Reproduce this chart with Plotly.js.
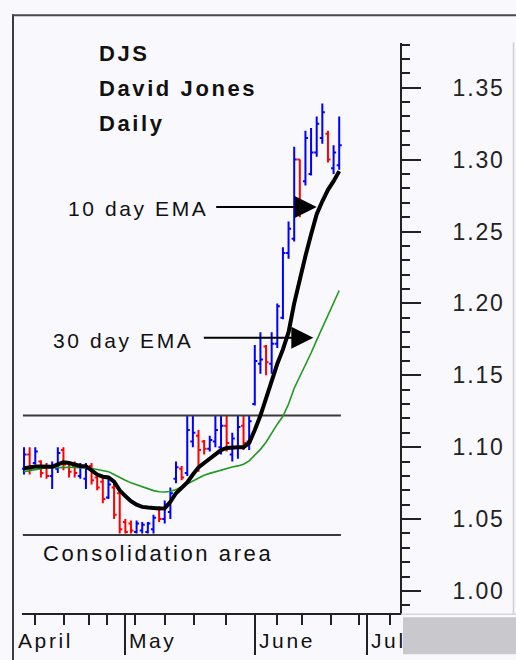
<!DOCTYPE html>
<html><head><meta charset="utf-8">
<script src="https://cdn.plot.ly/plotly-3.0.1.min.js"></script>
<style>
html,body{margin:0;padding:0;background:#f9f8fc;}
#chart{width:516px;height:660px;}
.annotation-text{letter-spacing:2.6px;}
.ytick text{letter-spacing:1.8px;}
</style></head><body><div id="chart"></div>
<script>
// trading-day index of each bar
const dayIndex = [0,1,2,3,4,5,6,7,8,9,10,11,12,13,14,15,16,17,18,19,20,21,22,23,24,25,26,27,28,29,30,31,32,33,34,35,36,37,38,39,40,41,42,43,44,45,46,47,48,49,50,51,52,53,54,55,56];
const openP  = [1.085,1.095,1.089,1.090,1.087,1.080,1.085,1.098,1.089,1.087,1.080,1.078,1.087,1.079,1.076,1.065,1.072,1.068,1.048,1.047,1.041,1.042,1.041,1.043,1.057,1.050,1.055,1.078,1.085,1.082,1.104,1.108,1.104,1.099,1.104,1.100,1.115,1.095,1.100,1.115,1.104,1.130,1.158,1.170,1.158,1.172,1.190,1.235,1.245,1.300,1.285,1.290,1.305,1.315,1.318,1.294,1.296];
const highP  = [1.100,1.100,1.100,1.091,1.089,1.090,1.100,1.100,1.090,1.090,1.089,1.089,1.089,1.082,1.080,1.078,1.075,1.071,1.050,1.049,1.049,1.048,1.048,1.053,1.059,1.063,1.072,1.090,1.087,1.122,1.122,1.112,1.105,1.108,1.122,1.122,1.122,1.110,1.122,1.122,1.122,1.171,1.180,1.171,1.180,1.200,1.239,1.257,1.309,1.300,1.320,1.322,1.330,1.339,1.320,1.310,1.330];
const lowP   = [1.081,1.081,1.088,1.079,1.078,1.071,1.082,1.084,1.079,1.079,1.078,1.071,1.074,1.070,1.061,1.064,1.050,1.040,1.040,1.040,1.040,1.040,1.040,1.040,1.048,1.047,1.050,1.075,1.077,1.080,1.100,1.083,1.095,1.097,1.100,1.095,1.097,1.090,1.092,1.098,1.098,1.129,1.151,1.150,1.151,1.169,1.189,1.231,1.243,1.260,1.282,1.289,1.302,1.311,1.298,1.290,1.293];
const closeP = [1.095,1.085,1.097,1.082,1.080,1.086,1.096,1.088,1.083,1.082,1.086,1.085,1.077,1.072,1.064,1.074,1.053,1.043,1.041,1.042,1.047,1.046,1.047,1.051,1.050,1.060,1.068,1.086,1.079,1.112,1.110,1.098,1.099,1.105,1.112,1.115,1.103,1.106,1.114,1.103,1.118,1.160,1.161,1.159,1.172,1.198,1.235,1.252,1.300,1.266,1.315,1.305,1.325,1.333,1.300,1.305,1.310];
// moving averages
const ema10 = [1.0853,1.0860,1.0866,1.0866,1.0864,1.0864,1.0880,1.0895,1.0890,1.0880,1.0870,1.0868,1.0840,1.0810,1.0795,1.0790,1.0760,1.0700,1.0660,1.0625,1.0600,1.0585,1.0580,1.0575,1.0573,1.0575,1.0620,1.0680,1.0720,1.0755,1.0810,1.0860,1.0890,1.0920,1.0950,1.0980,1.0995,1.1000,1.1000,1.1000,1.1030,1.1120,1.1220,1.1340,1.1470,1.1580,1.1680,1.1800,1.2000,1.2180,1.2330,1.2480,1.2620,1.2710,1.2790,1.2850,1.2920];
const ema30 = [1.0830,1.0838,1.0846,1.0855,1.0858,1.0858,1.0860,1.0862,1.0860,1.0860,1.0858,1.0858,1.0852,1.0845,1.0838,1.0830,1.0810,1.0788,1.0770,1.0752,1.0738,1.0722,1.0708,1.0698,1.0690,1.0688,1.0692,1.0705,1.0725,1.0745,1.0765,1.0790,1.0805,1.0818,1.0830,1.0842,1.0851,1.0862,1.0870,1.0882,1.0905,1.0945,1.0985,1.1035,1.1100,1.1160,1.1215,1.1300,1.1410,1.1488,1.1570,1.1655,1.1745,1.1830,1.1920,1.2005,1.2090];
// consolidation band
const levelValues = [1.122, 1.039];
const levelSpan = [-0.2, 56.3];
// axis ticks
const monthLabels = ['April', 'May', 'June', 'Jul'];
const monthTickIdx = [18, 41, 61];
const weekTickIdx = [2, 7.1, 11.6, 14.7, 19.8, 25, 30.2, 35.9, 44.9, 49.3, 54.5, 59.5, 65];
const titleLines = ['DJS', 'David Jones', 'Daily'];
const emaLabels = ['10 day EMA', '30 day EMA'];
const emaArrowTip = [[52, 1.267], [51.4, 1.1762]];
const zoneLabel = 'Consolidation area';

const BG = '#f9f8fc';
const FONT = 'Liberation Sans, Arial, sans-serif';
const L = 22, R = 400, T = 42.7, B = 612.7;
const PX = p => (p - L) / (R - L);
const PY = p => (B - p) / (B - T);

const traces = [];
levelValues.forEach(v => traces.push({
  type: 'scatter', mode: 'lines', x: levelSpan, y: [v, v],
  line: {color: '#3a3a3a', width: 2}, hoverinfo: 'skip'
}));
traces.push({
  type: 'ohlc', x: dayIndex, open: openP, high: highP, low: lowP, close: closeP,
  increasing: {line: {color: '#0000ff', width: 2}},
  decreasing: {line: {color: '#ff0000', width: 2}},
  tickwidth: 0.45, hoverinfo: 'skip'
});
traces.push({type: 'scatter', mode: 'lines', x: dayIndex, y: ema30,
  line: {color: '#1f9a1f', width: 1.6}, hoverinfo: 'skip'});
traces.push({type: 'scatter', mode: 'lines', x: dayIndex, y: ema10,
  line: {color: '#000000', width: 4}, hoverinfo: 'skip'});

const ann = [];
const titleY = [53, 88.5, 123];
titleLines.forEach((t, i) => ann.push({
  xref: 'paper', yref: 'paper', x: PX(97), y: PY(titleY[i]), xanchor: 'left', yanchor: 'middle',
  text: t, showarrow: false, font: {family: FONT, size: 22, color: '#111', weight: 'bold'}
}));
const emaTextPos = [[66, 208], [51, 340]];
const emaTail = [213, 204];
emaLabels.forEach((t, i) => {
  ann.push({xref: 'paper', yref: 'paper', x: PX(emaTextPos[i][0]), y: PY(emaTextPos[i][1]),
    xanchor: 'left', yanchor: 'middle', text: t, showarrow: false,
    font: {family: FONT, size: 21, color: '#111'}});
  ann.push({xref: 'x', yref: 'y', x: emaArrowTip[i][0], y: emaArrowTip[i][1], text: '',
    showarrow: true, arrowhead: 2, arrowsize: 2.2, arrowwidth: 2, arrowcolor: '#000',
    axref: 'pixel', ayref: 'pixel', ax: -(315 - emaTail[i]), ay: 0, standoff: 0});
});
ann.push({xref: 'paper', yref: 'paper', x: PX(41), y: PY(553), xanchor: 'left', yanchor: 'middle',
  text: zoneLabel, showarrow: false, font: {family: FONT, size: 22, color: '#111'}});
// month labels (April starts before the first plotted day)
ann.push({xref: 'paper', yref: 'paper', x: PX(16), y: PY(640), xanchor: 'left', yanchor: 'middle',
  text: monthLabels[0], showarrow: false, font: {family: FONT, size: 21, color: '#111'}});
monthTickIdx.forEach((d, i) => ann.push({xref: 'x', yref: 'paper', x: d, y: PY(640),
  xanchor: 'left', yanchor: 'middle', xshift: 2, text: monthLabels[i + 1], showarrow: false,
  font: {family: FONT, size: 21, color: '#111'}}));

const shapes = [
  {type: 'line', xref: 'paper', yref: 'paper', x0: PX(13), x1: PX(13), y0: PY(14), y1: PY(662), line: {color: '#3c3c3c', width: 2}},
  {type: 'line', xref: 'paper', yref: 'paper', x0: PX(12), x1: PX(518), y0: PY(15), y1: PY(15), line: {color: '#4a4a4a', width: 2}},
  {type: 'line', xref: 'paper', yref: 'paper', x0: PX(513.5), x1: PX(513.5), y0: PY(42), y1: PY(614), line: {color: '#d0d0d4', width: 1.5}},
  {type: 'line', xref: 'paper', yref: 'paper', x0: PX(401), x1: PX(516), y0: PY(614), y1: PY(614), line: {color: '#d8d8dc', width: 1.5}},
  {type: 'rect', xref: 'paper', yref: 'paper', x0: PX(403), x1: PX(517), y0: PY(617), y1: PY(654), fillcolor: '#c9c9cd', line: {width: 0}}
];

const layout = {
  width: 516, height: 660,
  margin: {l: L, r: 516 - R, t: T, b: 660 - B, pad: 0},
  paper_bgcolor: BG, plot_bgcolor: BG, showlegend: false,
  font: {family: FONT, color: '#111'},
  xaxis: {range: [-0.36, 66.8], showgrid: false, zeroline: false, showline: true,
    linecolor: '#222', linewidth: 2, ticks: 'outside', tickmode: 'array', tickvals: monthTickIdx,
    ticklen: 40, tickwidth: 2, tickcolor: '#222', showticklabels: false, fixedrange: true,
    rangeslider: {visible: false},
    minor: {tickmode: 'array', tickvals: weekTickIdx, ticks: 'outside', ticklen: 10, tickwidth: 2, tickcolor: '#222'}},
  yaxis: {side: 'right', range: [0.9847, 1.3811], showgrid: false, zeroline: false, showline: true,
    linecolor: '#222', linewidth: 2, ticks: 'outside', tickmode: 'linear', tick0: 1, dtick: 0.05,
    ticklen: 19, tickwidth: 2, tickcolor: '#222', tickformat: '.2f',
    tickfont: {family: FONT, size: 23, color: '#222'}, ticklabelstandoff: 27, fixedrange: true,
    minor: {tick0: 1, dtick: 0.01, ticks: 'outside', ticklen: 8, tickwidth: 2, tickcolor: '#222'}},
  annotations: ann, shapes: shapes
};
Plotly.newPlot('chart', traces, layout, {displayModeBar: false, staticPlot: true});
</script></body></html>
